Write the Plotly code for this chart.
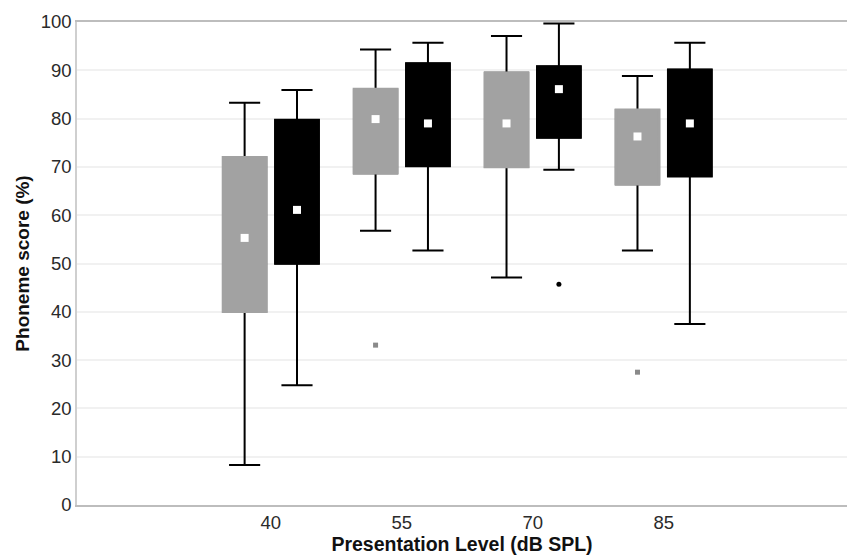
import plotly.graph_objects as go

# ---------------- data ----------------
categories = ["40", "55", "70", "85"]

# grey group
grey_q1 = [40.0, 68.7, 70.0, 66.4]
grey_q3 = [72.0, 86.1, 89.5, 81.8]
grey_lo = [8.3, 56.8, 47.1, 52.7]
grey_hi = [83.3, 94.3, 97.1, 88.8]
grey_mean = [55.3, 79.9, 79.0, 76.3]
grey_out_cat = ["55", "85"]
grey_out_val = [33.1, 27.5]

# black group
black_q1 = [50.0, 70.2, 76.1, 68.1]
black_q3 = [79.7, 91.4, 90.8, 90.1]
black_lo = [24.8, 52.7, 69.4, 37.5]
black_hi = [85.9, 95.7, 99.7, 95.7]
black_mean = [61.1, 79.0, 86.1, 79.0]
black_out_cat = ["70"]
black_out_val = [45.7]

y_ticks = list(range(0, 101, 10))

# ---------------- style ----------------
GREY = "#a2a2a2"
BLACK = "#000000"
OFFSET = 0.2
BOX_W = 0.33
FONT = "Liberation Sans, Arial, Helvetica, sans-serif"

idx = {c: i for i, c in enumerate(categories)}
grey_x = [idx[c] - OFFSET for c in categories]
black_x = [idx[c] + OFFSET for c in categories]

fig = go.Figure()


def add_group(xs, q1, q3, lo, hi, mean, color):
    # whiskers (black) -- the median is hidden under the body, mean used as placeholder
    fig.add_trace(go.Box(
        x=xs, q1=q1, q3=q3, median=mean, lowerfence=lo, upperfence=hi,
        width=BOX_W, whiskerwidth=0.72,
        line=dict(color=BLACK, width=2), fillcolor="rgba(0,0,0,0)",
        boxpoints=False, showlegend=False, hoverinfo="skip",
    ))
    # body (filled, no visible median)
    fig.add_trace(go.Box(
        x=xs, q1=q1, q3=q3, median=mean, lowerfence=q1, upperfence=q3,
        width=BOX_W, whiskerwidth=0,
        line=dict(color=color, width=2.6), fillcolor=color,
        boxpoints=False, showlegend=False, hoverinfo="skip",
    ))
    # mean markers
    fig.add_trace(go.Scatter(
        x=xs, y=mean, mode="markers",
        marker=dict(symbol="square", size=8, color="white"),
        showlegend=False, hoverinfo="skip",
    ))


add_group(grey_x, grey_q1, grey_q3, grey_lo, grey_hi, grey_mean, GREY)
add_group(black_x, black_q1, black_q3, black_lo, black_hi, black_mean, BLACK)

# outliers
fig.add_trace(go.Scatter(
    x=[idx[c] - OFFSET for c in grey_out_cat], y=grey_out_val, mode="markers",
    marker=dict(symbol="square", size=5, color="#8a8a8a"),
    showlegend=False, hoverinfo="skip",
))
fig.add_trace(go.Scatter(
    x=[idx[c] + OFFSET for c in black_out_cat], y=black_out_val, mode="markers",
    marker=dict(symbol="circle", size=5, color=BLACK),
    showlegend=False, hoverinfo="skip",
))

fig.update_layout(
    width=847, height=556,
    margin=dict(l=77, r=0, t=22, b=51),
    paper_bgcolor="white", plot_bgcolor="white",
    boxmode="overlay",
    font=dict(family=FONT, size=18, color="#2a2a2a"),
    xaxis=dict(
        range=[-1.48, 4.40],
        tickmode="array", tickvals=list(range(len(categories))), ticktext=categories,
        showgrid=False, zeroline=False,
        showline=True, mirror=True, linecolor="#bdbdbd", linewidth=1.5,
        ticks="", tickfont=dict(size=18.5, color="#2a2a2a"),
        title=dict(text="<b>Presentation Level (dB SPL)</b>", font=dict(size=19.5, color="#111111"), standoff=3),
    ),
    yaxis=dict(
        range=[0, 100],
        tickmode="array", tickvals=y_ticks,
        showgrid=True, gridcolor="#f1f1f1", gridwidth=1.5, zeroline=False,
        showline=True, linecolor="#cfcfcf", linewidth=1.5,
        ticks="", tickfont=dict(size=18.5, color="#2a2a2a"),
        title=dict(text="<b>Phoneme score (%)</b>", font=dict(size=19, color="#111111"), standoff=6),
    ),
)

fig.write_html(
    "out.html",
    config={"displayModeBar": False},
    post_script=(
        "document.documentElement.style.overflow='hidden';"
        "document.body.style.margin='0';document.body.style.overflow='hidden';"
    ),
)
